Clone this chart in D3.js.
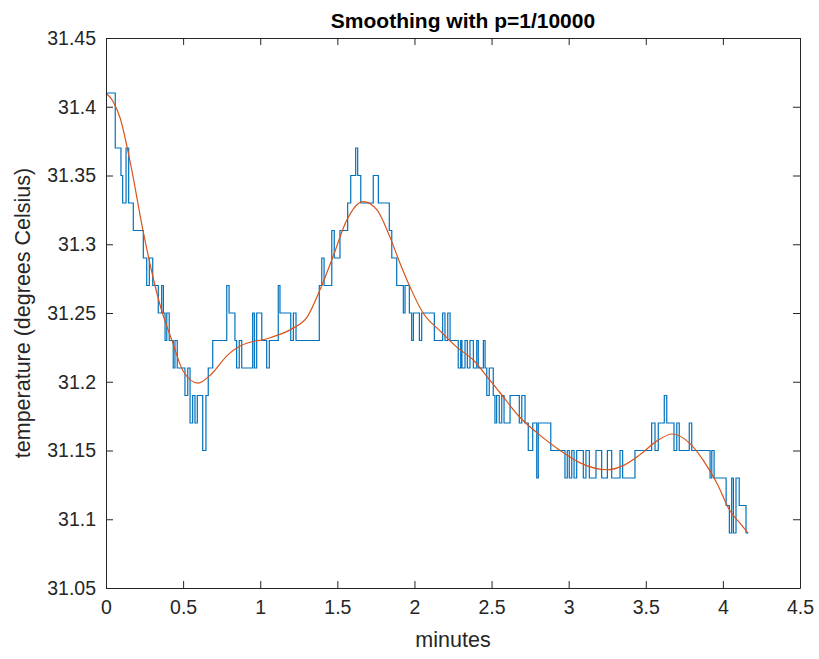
<!DOCTYPE html>
<html>
<head>
<meta charset="utf-8">
<script src="https://cdn.jsdelivr.net/npm/d3@7"></script>
<style>
  body { margin: 0; background: #fff; }
  svg { font-family: "Liberation Sans", Arial, Helvetica, sans-serif; }
</style>
</head>
<body>
<svg width="819" height="659"></svg>
<script>
// raw readings (stairs): time in minutes where a new level starts, and that level
const stepTimes = [0, 0.060, 0.097, 0.108, 0.130, 0.147, 0.177, 0.242, 0.264, 0.281,
    0.303, 0.339, 0.361, 0.372, 0.383, 0.394, 0.410, 0.436, 0.447, 0.462,
    0.512, 0.530, 0.545, 0.562, 0.577, 0.592, 0.627, 0.648, 0.663, 0.692,
    0.783, 0.798, 0.836, 0.847, 0.864, 0.880, 0.951, 0.962, 0.977, 1.010,
    1.042, 1.059, 1.117, 1.128, 1.198, 1.215, 1.232, 1.383, 1.399, 1.414,
    1.464, 1.480, 1.517, 1.567, 1.587, 1.619, 1.632, 1.652, 1.733, 1.766,
    1.837, 1.853, 1.885, 1.928, 1.939, 1.967, 1.982, 1.993, 2.032, 2.047,
    2.129, 2.183, 2.198, 2.216, 2.231, 2.284, 2.300, 2.308, 2.328, 2.343,
    2.360, 2.382, 2.404, 2.414, 2.447, 2.458, 2.469, 2.485, 2.511, 2.522,
    2.533, 2.550, 2.566, 2.581, 2.620, 2.680, 2.696, 2.717, 2.738, 2.767,
    2.793, 2.803, 2.884, 2.976, 2.991, 3.004, 3.020, 3.035, 3.052, 3.095,
    3.112, 3.134, 3.177, 3.214, 3.251, 3.279, 3.333, 3.350, 3.430, 3.538,
    3.560, 3.581, 3.620, 3.636, 3.683, 3.701, 3.717, 3.782, 3.798, 3.917,
    3.928, 3.943, 4.021, 4.042, 4.057, 4.068, 4.085, 4.106, 4.150, 4.165];

const stepTemps = [31.41, 31.37, 31.35, 31.33, 31.37, 31.33, 31.31, 31.29, 31.27, 31.29,
    31.27, 31.25, 31.27, 31.25, 31.23, 31.25, 31.23, 31.21, 31.23, 31.21,
    31.19, 31.21, 31.17, 31.19, 31.17, 31.19, 31.15, 31.19, 31.21, 31.23,
    31.27, 31.25, 31.23, 31.21, 31.23, 31.21, 31.25, 31.21, 31.25, 31.23,
    31.21, 31.23, 31.27, 31.25, 31.23, 31.25, 31.23, 31.27, 31.29, 31.27,
    31.31, 31.29, 31.31, 31.33, 31.35, 31.37, 31.35, 31.33, 31.35, 31.33,
    31.31, 31.29, 31.27, 31.25, 31.27, 31.25, 31.23, 31.25, 31.23, 31.25,
    31.23, 31.25, 31.23, 31.25, 31.23, 31.21, 31.23, 31.21, 31.23, 31.21,
    31.23, 31.21, 31.23, 31.21, 31.23, 31.21, 31.19, 31.21, 31.19, 31.17,
    31.19, 31.17, 31.19, 31.17, 31.19, 31.17, 31.19, 31.17, 31.15, 31.17,
    31.13, 31.17, 31.15, 31.13, 31.15, 31.13, 31.15, 31.13, 31.15, 31.13,
    31.15, 31.13, 31.15, 31.13, 31.15, 31.13, 31.15, 31.13, 31.15, 31.17,
    31.15, 31.17, 31.19, 31.17, 31.15, 31.17, 31.15, 31.17, 31.15, 31.13,
    31.15, 31.13, 31.11, 31.09, 31.13, 31.09, 31.13, 31.11, 31.09, 31.09];

// smoothed curve
const smoothTimes = [0, 0.045, 0.091, 0.160, 0.240, 0.305, 0.350, 0.434, 0.499, 0.597,
    0.687, 0.785, 0.869, 1.064, 1.213, 1.304, 1.388, 1.472, 1.563, 1.667,
    1.757, 1.842, 1.907, 1.971, 2.056, 2.166, 2.276, 2.380, 2.490, 2.555,
    2.685, 2.815, 2.944, 3.074, 3.249, 3.353, 3.463, 3.573, 3.671, 3.787,
    3.872, 3.962, 4.047, 4.112, 4.163];

const smoothTemps = [31.410, 31.404, 31.392, 31.358, 31.310, 31.276, 31.256, 31.228, 31.208, 31.199,
    31.206, 31.219, 31.226, 31.232, 31.239, 31.247, 31.267, 31.291, 31.318, 31.331,
    31.325, 31.305, 31.286, 31.269, 31.250, 31.237, 31.225, 31.216, 31.201, 31.192,
    31.174, 31.161, 31.150, 31.141, 31.136, 31.139, 31.147, 31.157, 31.162, 31.155,
    31.143, 31.126, 31.106, 31.097, 31.090];

const xTicks = [0, 0.5, 1, 1.5, 2, 2.5, 3, 3.5, 4, 4.5];
const yTicks = [31.05, 31.1, 31.15, 31.2, 31.25, 31.3, 31.35, 31.4, 31.45];

const attr = {
    left: 106,
    right: 800,
    top: 38,
    bottom: 588,
    tickLen: 7,
    axisColor: "#262626"
};

const svg = d3.select("svg");

const scX = d3.scaleLinear().domain([0, 4.5]).range([attr.left, attr.right]);
const scY = d3.scaleLinear().domain([31.05, 31.45]).range([attr.bottom, attr.top]);

// data first, frame drawn on top
const raw = stepTimes.map((t, i) => ({ t: t, v: stepTemps[i] }));
const smooth = smoothTimes.map((t, i) => ({ t: t, v: smoothTemps[i] }));

svg.append("path")
    .datum(raw)
    .attr("fill", "none")
    .attr("stroke", "#0072BD")
    .attr("stroke-width", 1.2)
    .attr("d", d3.line().x(d => scX(d.t)).y(d => scY(d.v)).curve(d3.curveStepAfter));

svg.append("path")
    .datum(smooth)
    .attr("fill", "none")
    .attr("stroke", "#D95319")
    .attr("stroke-width", 1.2)
    .attr("d", d3.line().x(d => scX(d.t)).y(d => scY(d.v)).curve(d3.curveMonotoneX));

// axes with inward ticks
svg.append("g")
    .attr("transform", `translate(0,${attr.bottom})`)
    .call(d3.axisBottom(scX).tickValues(xTicks).tickSizeInner(-attr.tickLen)
        .tickSizeOuter(0).tickPadding(12).tickFormat(d3.format("")));

svg.append("g")
    .attr("transform", `translate(${attr.left},0)`)
    .call(d3.axisLeft(scY).tickValues(yTicks).tickSizeInner(-attr.tickLen)
        .tickSizeOuter(0).tickPadding(10).tickFormat(d3.format("")));

svg.append("g")
    .attr("transform", `translate(0,${attr.top})`)
    .call(d3.axisTop(scX).tickValues(xTicks).tickSizeInner(-attr.tickLen)
        .tickSizeOuter(0).tickFormat(""));

svg.append("g")
    .attr("transform", `translate(${attr.right},0)`)
    .call(d3.axisRight(scY).tickValues(yTicks).tickSizeInner(-attr.tickLen)
        .tickSizeOuter(0).tickFormat(""));

svg.selectAll(".domain").attr("stroke", attr.axisColor);
svg.selectAll(".tick line").attr("stroke", attr.axisColor);
svg.selectAll(".tick text")
    .attr("fill", attr.axisColor)
    .style("font-size", "19.5px");

svg.append("text")
    .attr("x", (attr.left + attr.right) / 2)
    .attr("y", 647)
    .attr("text-anchor", "middle")
    .attr("fill", attr.axisColor)
    .style("font-size", "21.5px")
    .text("minutes");

svg.append("text")
    .attr("transform", `translate(30,${(attr.top + attr.bottom) / 2}) rotate(-90)`)
    .attr("text-anchor", "middle")
    .attr("fill", attr.axisColor)
    .style("font-size", "21.5px")
    .text("temperature (degrees Celsius)");

svg.append("text")
    .attr("x", (attr.left + attr.right) / 2 + 10)
    .attr("y", 28)
    .attr("text-anchor", "middle")
    .attr("fill", "#000")
    .style("font-size", "21px")
    .style("font-weight", "bold")
    .text("Smoothing with p=1/10000");
</script>
</body>
</html>
